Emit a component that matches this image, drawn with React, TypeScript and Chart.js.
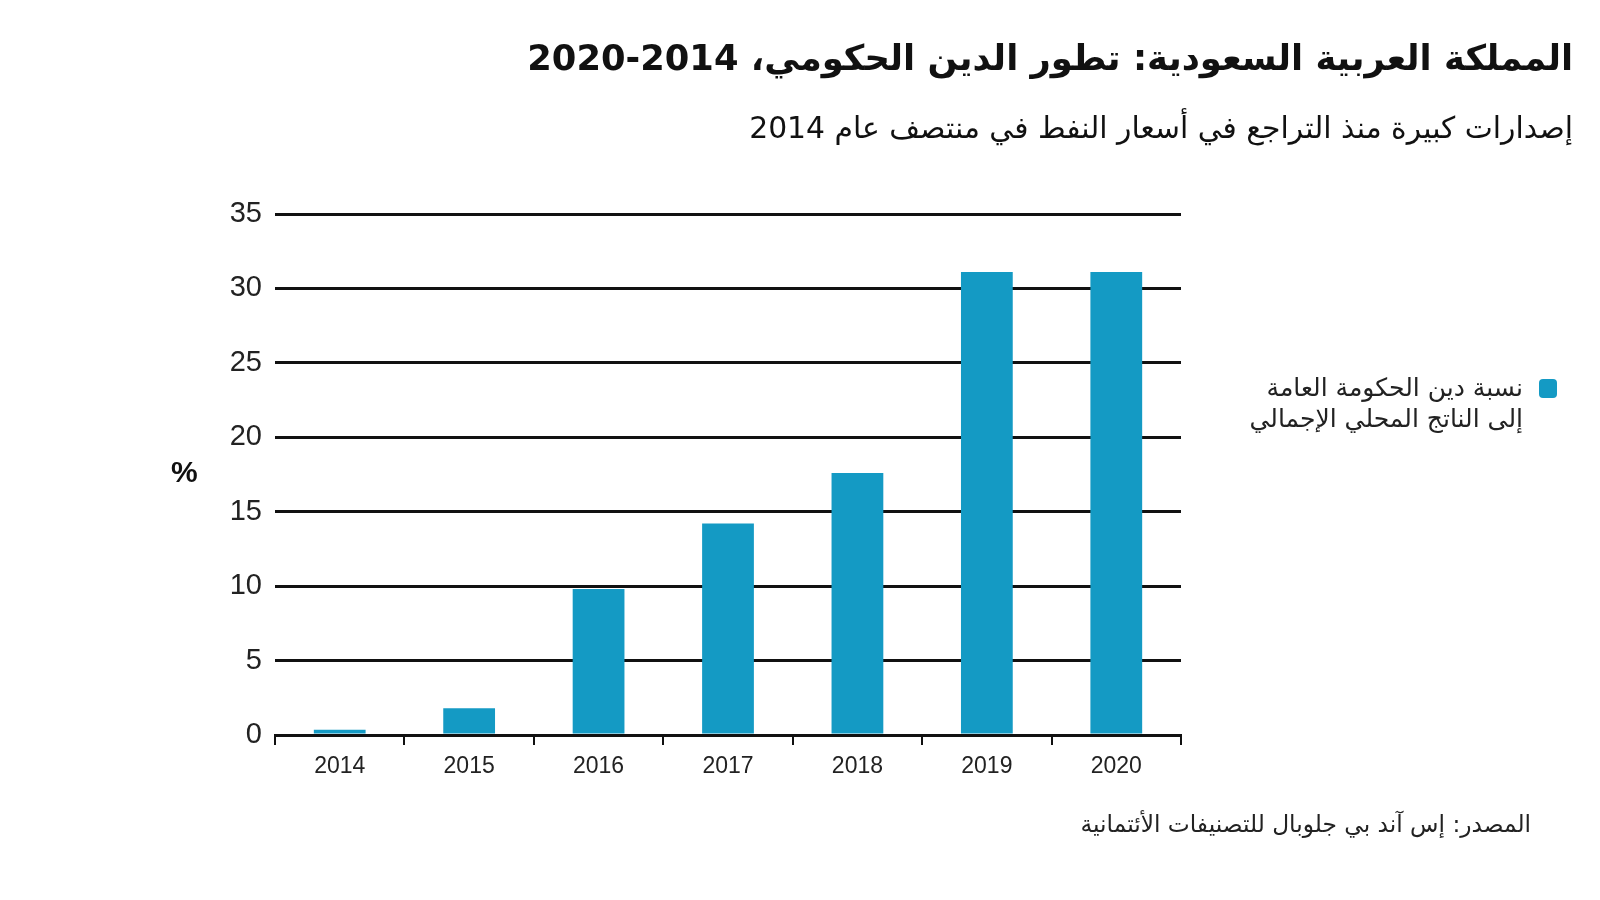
import React, { useEffect, useRef } from "react";
import { Chart, registerables } from "chart.js";

Chart.register(...registerables);

const categories = ["2014", "2015", "2016", "2017", "2018", "2019", "2020"];
const debtToGdp = [0.35, 1.8, 9.8, 14.2, 17.6, 31.1, 31.1];
const yTicks = [0, 5, 10, 15, 20, 25, 30, 35];

const titleText = "المملكة العربية السعودية: تطور الدين الحكومي، 2014-2020";
const subtitleText = "إصدارات كبيرة منذ التراجع في أسعار النفط في منتصف عام 2014";
const legendLine1 = "نسبة دين الحكومة العامة";
const legendLine2 = "إلى الناتج المحلي الإجمالي";
const sourceText = "المصدر: إس آند بي جلوبال للتصنيفات الأئتمانية";
const unitLabel = "%";

const BAR_COLOR = "#149ac4";
const ARABIC_FONT = "'DejaVu Sans', 'Noto Sans', sans-serif";
const NUM_FONT = "'Liberation Sans', Arial, sans-serif";

export default function App() {
  const canvasRef = useRef<HTMLCanvasElement | null>(null);

  useEffect(() => {
    if (!canvasRef.current) return;
    const chart = new Chart(canvasRef.current, {
      type: "bar",
      data: {
        labels: categories,
        datasets: [
          {
            label: legendLine1 + " " + legendLine2,
            data: debtToGdp,
            backgroundColor: BAR_COLOR,
            borderWidth: 0,
            categoryPercentage: 1,
            barPercentage: 0.4,
          },
        ],
      },
      options: {
        responsive: false,
        animation: false,
        layout: { padding: { top: 214, right: 419, bottom: 0, left: 0 } },
        plugins: {
          legend: { display: false },
          tooltip: { enabled: false },
          title: { display: false },
        },
        scales: {
          x: {
            afterFit: (s: any) => {
              s.height = 165;
            },
            grid: {
              display: true,
              drawOnChartArea: false,
              drawTicks: true,
              tickLength: 10,
              color: "#111",
              lineWidth: 2,
            },
            border: { display: true, color: "#111", width: 3 },
            ticks: {
              color: "#222",
              padding: 8,
              font: { family: NUM_FONT, size: 23 },
            },
          },
          y: {
            min: 0,
            max: 35,
            afterFit: (s: any) => {
              s.width = 275;
            },
            afterBuildTicks: (s: any) => {
              s.ticks = yTicks.map((v) => ({ value: v }));
            },
            grid: {
              color: "#111",
              lineWidth: 3,
              drawTicks: false,
            },
            border: { display: false },
            ticks: {
              color: "#222",
              padding: 13,
              font: { family: NUM_FONT, size: 29 },
            },
          },
        },
      },
    });
    return () => chart.destroy();
  }, []);

  return (
    <div
      style={{
        position: "fixed",
        left: 0,
        top: 0,
        width: 1600,
        height: 900,
        background: "#fff",
        overflow: "hidden",
      }}
    >
      <canvas
        ref={canvasRef}
        width={1600}
        height={900}
        style={{ position: "absolute", left: 0, top: 0, width: 1600, height: 900 }}
      />
      <div
        dir="rtl"
        style={{
          position: "absolute",
          right: 27,
          top: 33,
          fontFamily: ARABIC_FONT,
          fontWeight: 700,
          fontSize: 35.3,
          color: "#111",
          whiteSpace: "nowrap",
          lineHeight: "50px",
        }}
      >
        {titleText}
      </div>
      <div
        dir="rtl"
        style={{
          position: "absolute",
          right: 27,
          top: 107,
          fontFamily: ARABIC_FONT,
          fontSize: 29.8,
          color: "#111",
          whiteSpace: "nowrap",
          lineHeight: "42px",
        }}
      >
        {subtitleText}
      </div>
      <div
        style={{
          position: "absolute",
          left: 171,
          top: 455,
          fontFamily: NUM_FONT,
          fontWeight: 700,
          fontSize: 30,
          color: "#111",
          lineHeight: "34px",
        }}
      >
        {unitLabel}
      </div>
      <div
        style={{
          position: "absolute",
          left: 1539,
          top: 379,
          width: 18,
          height: 19,
          background: BAR_COLOR,
          borderRadius: 4,
        }}
      />
      <div
        dir="rtl"
        style={{
          position: "absolute",
          right: 77,
          top: 372,
          fontFamily: ARABIC_FONT,
          fontSize: 25,
          color: "#222",
          whiteSpace: "nowrap",
          lineHeight: "31px",
          textAlign: "right",
        }}
      >
        <div>{legendLine1}</div>
        <div>{legendLine2}</div>
      </div>
      <div
        dir="rtl"
        style={{
          position: "absolute",
          right: 69,
          top: 807,
          fontFamily: ARABIC_FONT,
          fontSize: 23.3,
          color: "#222",
          whiteSpace: "nowrap",
          lineHeight: "34px",
        }}
      >
        {sourceText}
      </div>
    </div>
  );
}
